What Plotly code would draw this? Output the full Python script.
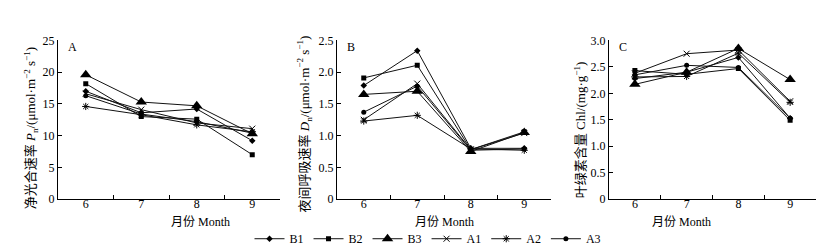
import plotly.graph_objects as go

months = [6, 7, 8, 9]
series = ["B1", "B2", "B3", "A1", "A2", "A3"]

pn_B1 = [17.0, 13.6, 14.2, 9.2]
pn_B2 = [18.2, 13.0, 12.6, 7.0]
pn_B3 = [19.6, 15.3, 14.7, 10.3]
pn_A1 = [16.6, 14.1, 12.0, 11.1]
pn_A2 = [14.6, 13.3, 11.7, 10.6]
pn_A3 = [16.3, 13.4, 12.2, 10.4]

dn_B1 = [1.79, 2.34, 0.80, 0.80]
dn_B2 = [1.91, 2.11, 0.78, 1.06]
dn_B3 = [1.65, 1.70, 0.75, 1.05]
dn_A1 = [1.25, 1.82, 0.78, 1.04]
dn_A2 = [1.23, 1.32, 0.79, 0.77]
dn_A3 = [1.37, 1.78, 0.77, 0.79]

chl_B1 = [2.28, 2.40, 2.68, 1.53]
chl_B2 = [2.43, 2.36, 2.47, 1.49]
chl_B3 = [2.17, 2.40, 2.85, 2.26]
chl_A1 = [2.38, 2.75, 2.82, 1.85]
chl_A2 = [2.31, 2.32, 2.76, 1.83]
chl_A3 = [2.35, 2.53, 2.49, 1.53]

pn = [pn_B1, pn_B2, pn_B3, pn_A1, pn_A2, pn_A3]
dn = [dn_B1, dn_B2, dn_B3, dn_A1, dn_A2, dn_A3]
chl = [chl_B1, chl_B2, chl_B3, chl_A1, chl_A2, chl_A3]

markers = [
    dict(symbol="diamond", size=5),
    dict(symbol="square", size=5),
    dict(symbol="triangle-up", size=10),
    dict(symbol="x-thin-open", size=6, line=dict(width=1, color="black")),
    dict(symbol="asterisk-open", size=6, line=dict(width=1, color="black")),
    dict(symbol="circle", size=5),
]

FONT = "Liberation Serif, Times New Roman, serif"
CJK = "Liberation Serif, Noto Sans CJK SC, serif"

fig = go.Figure()
panels = [(pn, "x", "y"), (dn, "x2", "y2"), (chl, "x3", "y3")]
for pi, (data, xa, ya) in enumerate(panels):
    for si, name in enumerate(series):
        m = dict(markers[si])
        m["color"] = "black"
        fig.add_trace(go.Scatter(
            x=months, y=data[si], name=name, mode="lines+markers",
            line=dict(color="#111111", width=1), marker=m,
            xaxis=xa, yaxis=ya, showlegend=(pi == 0)))

xdoms = [[50 / 840, 272 / 840], [329 / 840, 543 / 840], [601 / 840, 808 / 840]]
ydom = [55 / 250, 223 / 250]
boundaries = [5.5, 6.5, 7.5, 8.5, 9.5]

def xaxis(dom, anchor):
    # axis line with inward tick marks between the months
    return dict(domain=dom, anchor=anchor, range=[5.5, 9.5], tickvals=boundaries,
                ticks="inside", ticklen=4, tickcolor="black", showticklabels=False,
                showline=True, linecolor="black", linewidth=1,
                showgrid=False, zeroline=False)

def xlabels(dom, over):
    # month labels (no tick marks), placed slightly above the axis line
    return dict(domain=dom, anchor="free", position=59 / 250, overlaying=over,
                range=[5.5, 9.5], tickvals=months, ticks="", showline=False,
                showgrid=False, zeroline=False,
                tickfont=dict(family=FONT, size=12, color="black"))

def yaxis(anchor, rng, vals, texts):
    return dict(domain=ydom, anchor=anchor, range=rng, tickvals=vals, ticktext=texts,
                ticks="inside", ticklen=4, tickcolor="black",
                showline=True, linecolor="black", linewidth=1,
                showgrid=False, zeroline=False,
                tickfont=dict(family=FONT, size=12, color="black"))

fig.update_layout(
    width=840, height=250, margin=dict(l=0, r=0, t=0, b=0),
    paper_bgcolor="white", plot_bgcolor="white",
    xaxis=xaxis(xdoms[0], "y"), xaxis2=xaxis(xdoms[1], "y2"), xaxis3=xaxis(xdoms[2], "y3"),
    xaxis4=xlabels(xdoms[0], "x"), xaxis5=xlabels(xdoms[1], "x2"),
    xaxis6=xlabels(xdoms[2], "x3"),
    yaxis=yaxis("x", [0, 25], [0, 5, 10, 15, 20, 25], ["0", "5", "10", "15", "20", "25"]),
    yaxis2=yaxis("x2", [0, 2.5], [0, 0.5, 1.0, 1.5, 2.0, 2.5], ["0", "0.5", "1.0", "1.5", "2.0", "2.5"]),
    yaxis3=yaxis("x3", [0, 3.0], [0, 0.5, 1.0, 1.5, 2.0, 2.5, 3.0], ["0", "0.5", "1.0", "1.5", "2.0", "2.5", "3.0"]),
    legend=dict(orientation="h", x=0.5, xanchor="center", y=13 / 250, yanchor="middle",
                font=dict(family=FONT, size=12, color="black"),
                itemwidth=30, tracegroupgap=0, bgcolor="rgba(0,0,0,0)"),
    showlegend=True,
)
# invisible traces to activate the label axes
for xa, ya in [("x4", "y"), ("x5", "y2"), ("x6", "y3")]:
    fig.add_trace(go.Scatter(x=[6], y=[0], xaxis=xa, yaxis=ya, mode="markers",
                             marker=dict(opacity=0), showlegend=False, hoverinfo="skip"))

ann = []
for i, (dom, letter) in enumerate(zip(xdoms, ["A", "B", "C"])):
    ann.append(dict(x=(dom[0] + dom[1]) / 2, y=31 / 250, xref="paper", yref="paper",
                    text="月份 Month", showarrow=False,
                    font=dict(family=CJK, size=12, color="black"), yanchor="middle"))
    ann.append(dict(x=dom[0] + 8 / 840, y=216 / 250, xref="paper", yref="paper",
                    text=letter, showarrow=False, xanchor="left", yanchor="middle",
                    font=dict(family=FONT, size=12, color="black")))

ytitles = [
    (23, 120, "净光合速率 <i>P</i><sub>n</sub>/(μmol·m<sup>−2</sup> s<sup>−1</sup>)"),
    (296, 116, "夜间呼吸速率 <i>D</i><sub>n</sub>/(μmol·m<sup>−2</sup> s<sup>−1</sup>)"),
    (572, 122, "叶绿素含量 Chl/(mg·g<sup>−1</sup>)"),
]
for xpx, ypx, t in ytitles:
    ann.append(dict(x=xpx / 840, y=(250 - ypx) / 250, xref="paper", yref="paper",
                    text=t, showarrow=False, textangle=-90,
                    font=dict(family=CJK, size=13, color="black"),
                    xanchor="center", yanchor="middle"))
fig.update_layout(annotations=ann)

fig.write_html("out.html")
